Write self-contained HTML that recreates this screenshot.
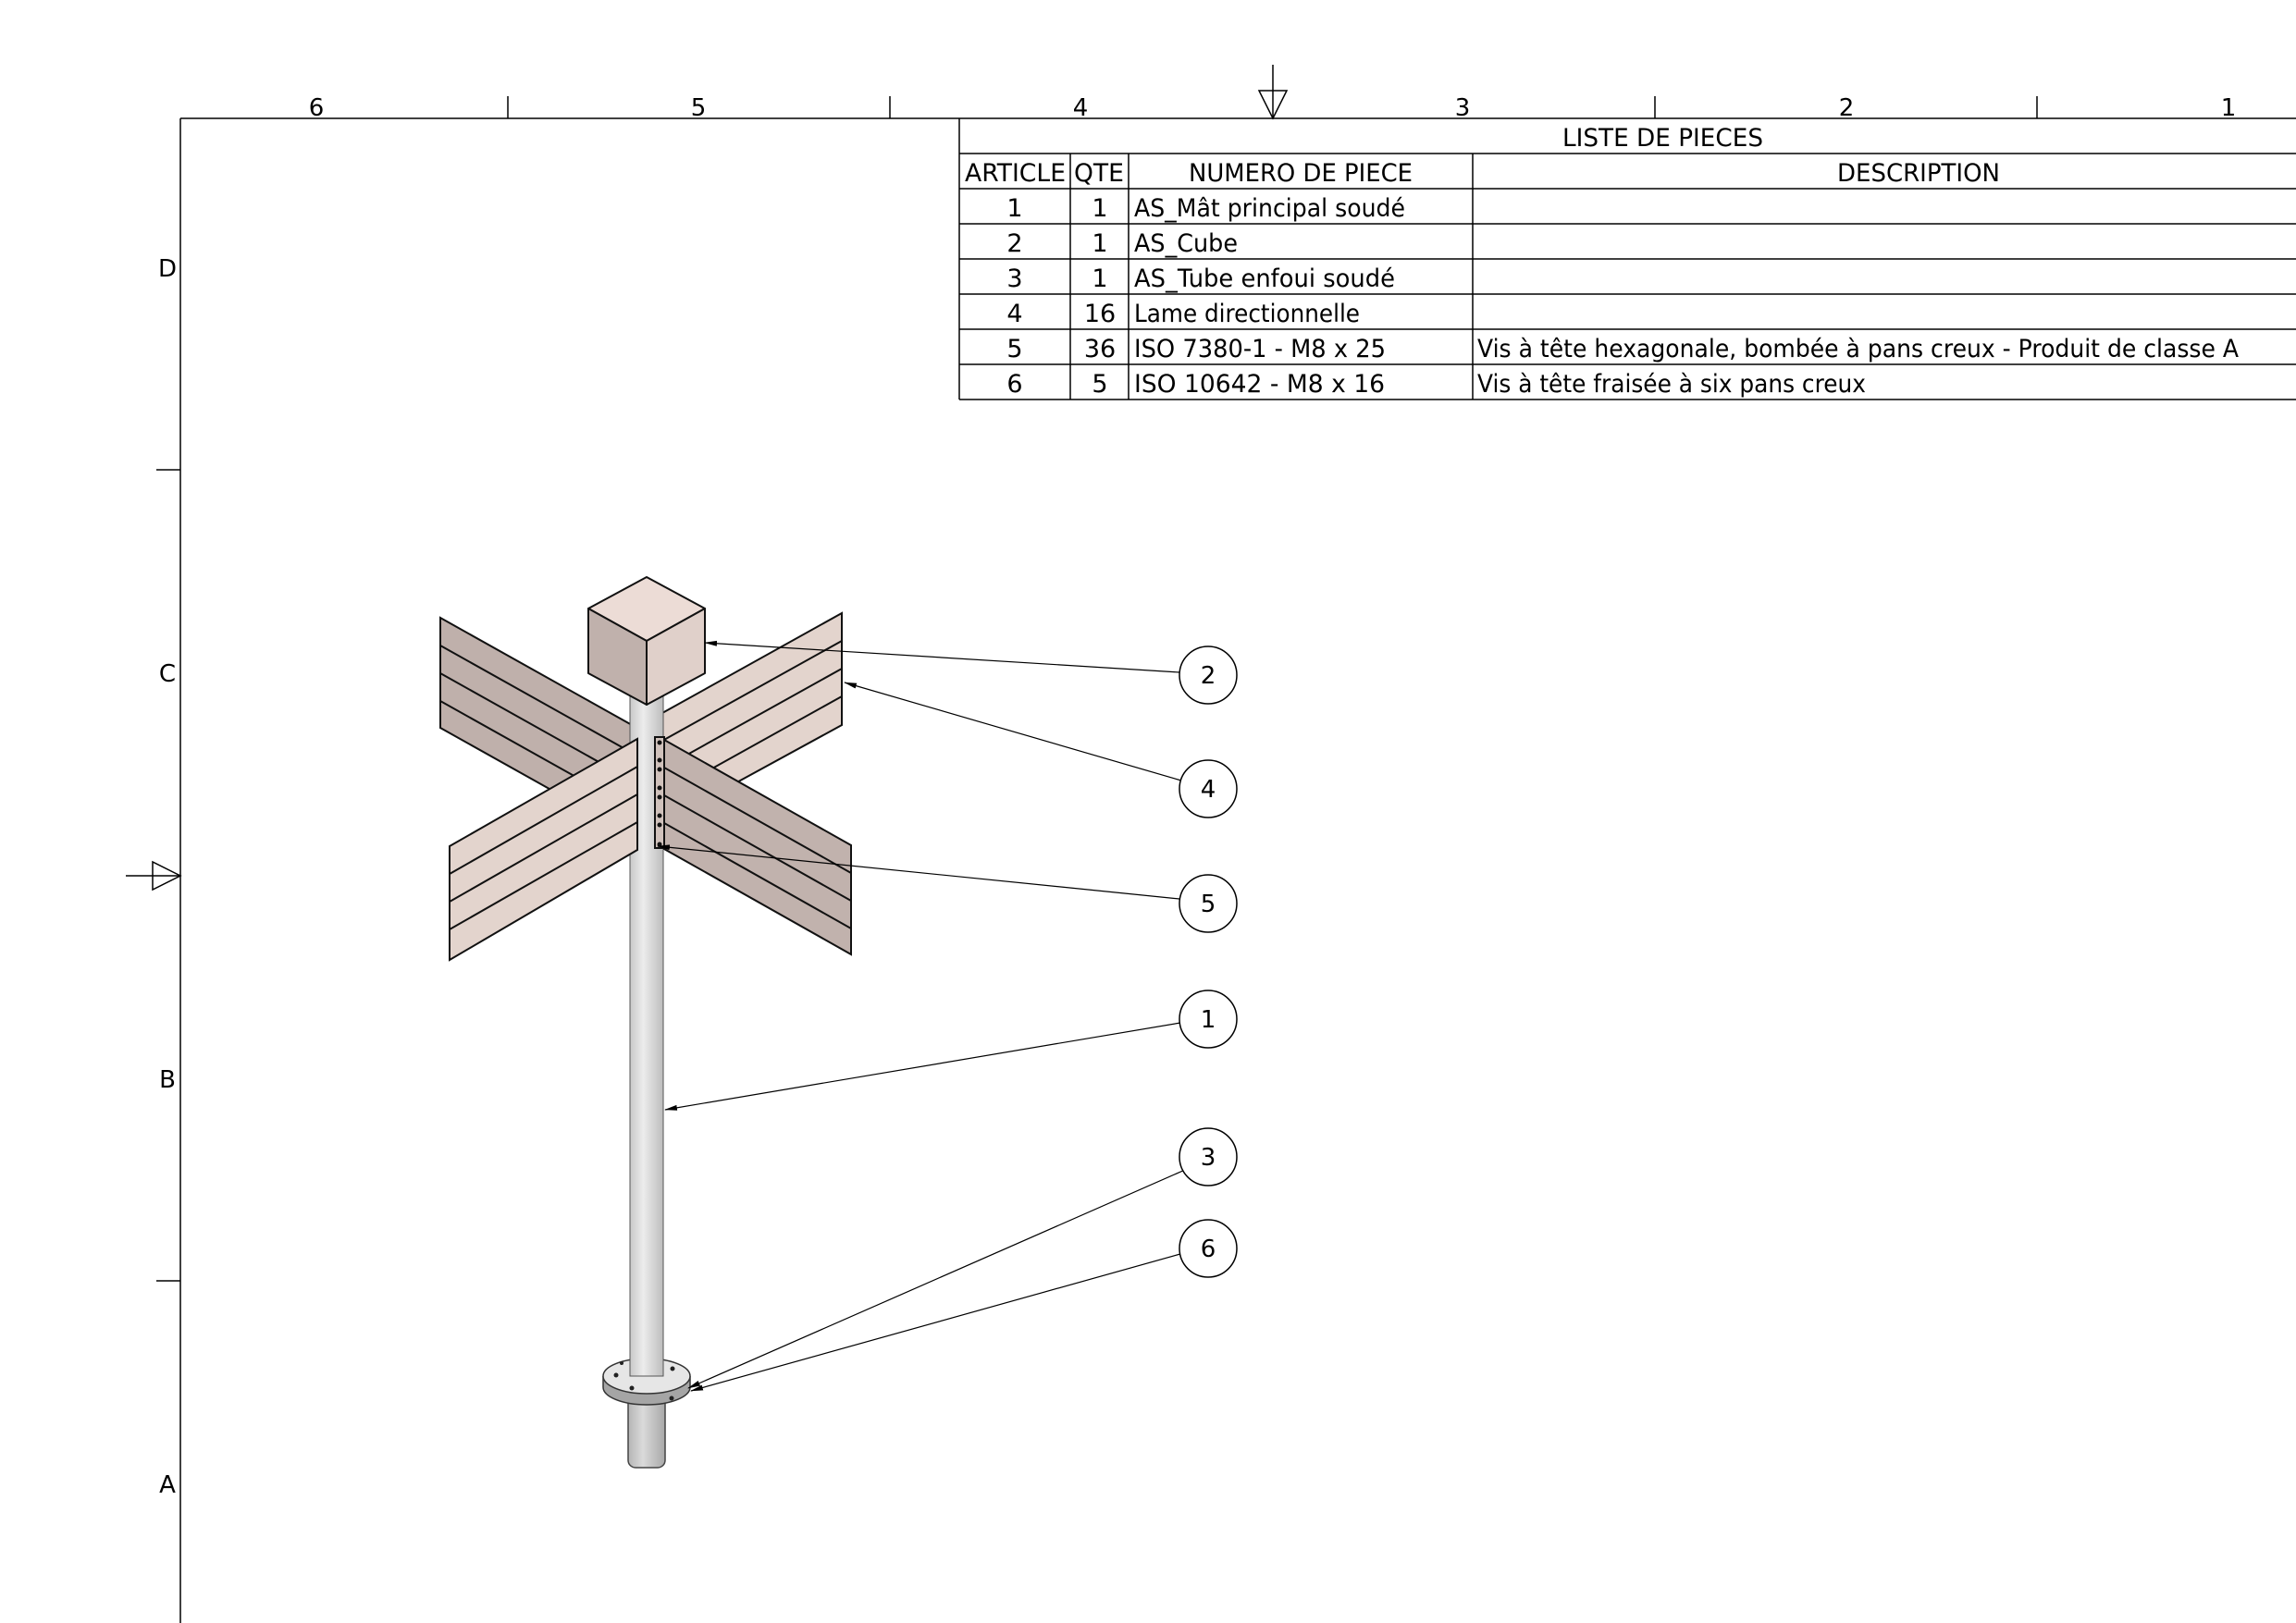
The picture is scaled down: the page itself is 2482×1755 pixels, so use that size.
<!DOCTYPE html>
<html><head><meta charset="utf-8"><style>
html,body{margin:0;padding:0;background:#fff;}
svg{display:block;}
text{font-family:"DejaVu Sans","Liberation Sans",sans-serif;fill:#000;}
</style></head><body>
<svg width="2482" height="1755" viewBox="0 0 2482 1755" xmlns="http://www.w3.org/2000/svg">
<defs>
<marker id="ar" markerWidth="14" markerHeight="8" refX="13" refY="4" orient="auto" markerUnits="userSpaceOnUse">
<path d="M0,1 L14,4 L0,7 Z" fill="#000"/></marker>
<linearGradient id="pg" x1="0" x2="1" y1="0" y2="0">
<stop offset="0" stop-color="#c8c8c8"/><stop offset="0.4" stop-color="#ececec"/><stop offset="1" stop-color="#bdbdbd"/></linearGradient>
<linearGradient id="pg2" x1="0" x2="1" y1="0" y2="0">
<stop offset="0" stop-color="#b5b5b5"/><stop offset="0.4" stop-color="#dadada"/><stop offset="1" stop-color="#a8a8a8"/></linearGradient>
</defs>
<g stroke="#000" stroke-width="1.5" fill="none">
<line x1="195" y1="128" x2="2482" y2="128"/>
<line x1="195" y1="128" x2="195" y2="1755"/>
<line x1="549" y1="104" x2="549" y2="128"/>
<line x1="962" y1="104" x2="962" y2="128"/>
<line x1="1789" y1="104" x2="1789" y2="128"/>
<line x1="2202" y1="104" x2="2202" y2="128"/>
<line x1="169" y1="508" x2="195" y2="508"/>
<line x1="169" y1="1385" x2="195" y2="1385"/>
<line x1="1376" y1="70" x2="1376" y2="128"/>
<path d="M1361,98 L1391,98 L1376,128 Z"/>
<line x1="136" y1="947" x2="195" y2="947"/>
<path d="M165,932 L165,962 L195,947 Z"/>
</g>
<g font-size="26" text-anchor="middle">
<text x="342" y="125">6</text><text x="755" y="125">5</text><text x="1168" y="125">4</text>
<text x="1581" y="125">3</text><text x="1996" y="125">2</text><text x="2409" y="125">1</text>
<text x="181" y="299">D</text><text x="181" y="737">C</text><text x="181" y="1176">B</text><text x="181" y="1614">A</text>
</g>
<g stroke="#000" stroke-width="1.5">
<line x1="1037" y1="128" x2="1037" y2="432"/>
<line x1="1037" y1="166" x2="2482" y2="166"/>
<line x1="1037" y1="204" x2="2482" y2="204"/>
<line x1="1037" y1="242" x2="2482" y2="242"/>
<line x1="1037" y1="280" x2="2482" y2="280"/>
<line x1="1037" y1="318" x2="2482" y2="318"/>
<line x1="1037" y1="356" x2="2482" y2="356"/>
<line x1="1037" y1="394" x2="2482" y2="394"/>
<line x1="1037" y1="432" x2="2482" y2="432"/>
<line x1="1157" y1="166" x2="1157" y2="432"/>
<line x1="1220" y1="166" x2="1220" y2="432"/>
<line x1="1592" y1="166" x2="1592" y2="432"/>
</g>
<g font-size="27">
<text x="1689" y="158" textLength="217" lengthAdjust="spacingAndGlyphs">LISTE DE PIECES</text>
<text x="1043" y="196" textLength="109" lengthAdjust="spacingAndGlyphs">ARTICLE</text>
<text x="1161" y="196" textLength="54" lengthAdjust="spacingAndGlyphs">QTE</text>
<text x="1285" y="196" textLength="242" lengthAdjust="spacingAndGlyphs">NUMERO DE PIECE</text>
<text x="1986" y="196" textLength="176" lengthAdjust="spacingAndGlyphs">DESCRIPTION</text>
<g text-anchor="middle">
<text x="1097" y="234">1</text><text x="1097" y="272">2</text><text x="1097" y="310">3</text>
<text x="1097" y="348">4</text><text x="1097" y="386">5</text><text x="1097" y="424">6</text>
<text x="1189" y="234">1</text><text x="1189" y="272">1</text><text x="1189" y="310">1</text>
<text x="1189" y="348">16</text><text x="1189" y="386">36</text><text x="1189" y="424">5</text>
</g>
<text x="1226" y="234" textLength="293" lengthAdjust="spacingAndGlyphs">AS_Mât principal soudé</text>
<text x="1226" y="272" textLength="112" lengthAdjust="spacingAndGlyphs">AS_Cube</text>
<text x="1226" y="310" textLength="282" lengthAdjust="spacingAndGlyphs">AS_Tube enfoui soudé</text>
<text x="1226" y="348" textLength="244" lengthAdjust="spacingAndGlyphs">Lame directionnelle</text>
<text x="1226" y="386" textLength="272" lengthAdjust="spacingAndGlyphs">ISO 7380-1 - M8 x 25</text>
<text x="1226" y="424" textLength="271" lengthAdjust="spacingAndGlyphs">ISO 10642 - M8 x  16</text>
<text x="1597" y="386" textLength="823" lengthAdjust="spacingAndGlyphs">Vis à tête hexagonale, bombée à pans creux - Produit de classe A</text>
<text x="1597" y="424" textLength="420" lengthAdjust="spacingAndGlyphs">Vis à tête fraisée à six pans creux</text>
</g>
<g stroke="#111" stroke-width="2">
<path d="M476,668 L692,789 L692,908 L476,787 Z" fill="#bfb0ab"/>
<line x1="476" y1="698" x2="692" y2="819"/><line x1="476" y1="728" x2="692" y2="849"/><line x1="476" y1="758" x2="692" y2="879"/>
<path d="M910,663 L716,771 L716,890 L910,784 Z" fill="#e3d4cd"/>
<line x1="910" y1="693" x2="716" y2="801"/><line x1="910" y1="723" x2="716" y2="831"/><line x1="910" y1="753" x2="716" y2="861"/>
</g>
<rect x="679" y="1470" width="40" height="117" rx="8" fill="url(#pg2)" stroke="#444" stroke-width="1.5"/>
<path d="M652,1488 L652,1500 A47,19 0 0 0 746,1500 L746,1488" fill="#a5a5a5" stroke="#333" stroke-width="1.5"/>
<ellipse cx="699" cy="1488" rx="47" ry="19" fill="#e6e6e6" stroke="#333" stroke-width="1.5"/>
<rect x="681" y="740" width="36" height="748" fill="url(#pg)" stroke="#555" stroke-width="1"/>
<g fill="#222"><circle cx="666" cy="1487" r="2.5"/><circle cx="727" cy="1480" r="2.5"/><circle cx="683" cy="1501" r="2.5"/><circle cx="726" cy="1512" r="2.5"/><circle cx="672" cy="1474" r="2"/></g>
<g stroke="#111" stroke-width="2">
<path d="M486,915 L689,799 L689,919 L486,1038 Z" fill="#e3d4cd"/>
<line x1="486" y1="945" x2="689" y2="829"/><line x1="486" y1="975" x2="689" y2="859"/><line x1="486" y1="1005" x2="689" y2="889"/>
<path d="M718,800 L920,914 L920,1032 L718,918 Z" fill="#c1b2ad"/>
<line x1="718" y1="830" x2="920" y2="944"/><line x1="718" y1="860" x2="920" y2="974"/><line x1="718" y1="890" x2="920" y2="1004"/>
<rect x="708" y="797" width="10" height="120" fill="#d0c2bc"/>
</g>
<g fill="#111"><circle cx="713" cy="803" r="2.5"/><circle cx="713" cy="822" r="2.5"/><circle cx="713" cy="832" r="2.5"/><circle cx="713" cy="852" r="2.5"/><circle cx="713" cy="862" r="2.5"/><circle cx="713" cy="882" r="2.5"/><circle cx="713" cy="892" r="2.5"/><circle cx="713" cy="913" r="2.5"/></g>
<g stroke="#111" stroke-width="2" stroke-linejoin="round">
<path d="M699,624 L762,658 L699,693 L636,658 Z" fill="#ecdcd6"/>
<path d="M636,658 L699,693 L699,762 L636,728 Z" fill="#c0b1ac"/>
<path d="M762,658 L699,693 L699,762 L762,728 Z" fill="#e0d0ca"/>
</g>
<g stroke="#000" stroke-width="1.2" marker-end="url(#ar)">
<line x1="1275" y1="727" x2="762" y2="695"/>
<line x1="1277" y1="844" x2="913" y2="738"/>
<line x1="1275" y1="972" x2="711" y2="915"/>
<line x1="1276" y1="1106" x2="719" y2="1200"/>
<line x1="1281" y1="1265" x2="744" y2="1501"/>
<line x1="1276" y1="1356" x2="747" y2="1504"/>
</g>
<g fill="#fff" stroke="#000" stroke-width="1.5">
<circle cx="1306" cy="730" r="31"/><circle cx="1306" cy="853" r="31"/><circle cx="1306" cy="977" r="31"/>
<circle cx="1306" cy="1102" r="31"/><circle cx="1306" cy="1251" r="31"/><circle cx="1306" cy="1350" r="31"/>
</g>
<g font-size="26" text-anchor="middle">
<text x="1306" y="739">2</text><text x="1306" y="862">4</text><text x="1306" y="986">5</text>
<text x="1306" y="1111">1</text><text x="1306" y="1260">3</text><text x="1306" y="1359">6</text>
</g>
</svg>
</body></html>
